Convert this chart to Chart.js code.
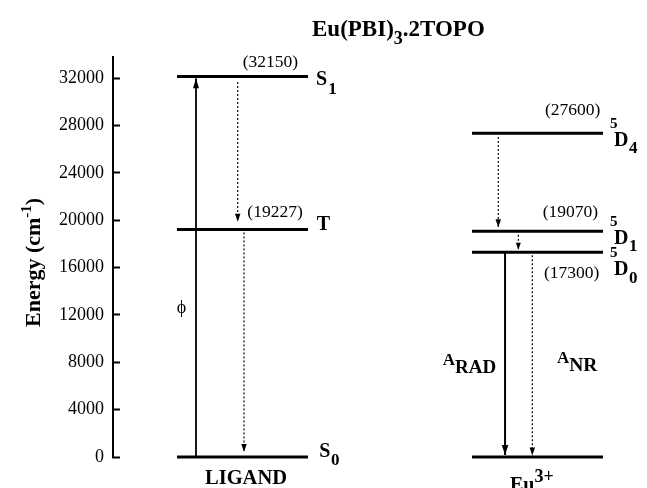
<!DOCTYPE html>
<html>
<head>
<meta charset="utf-8">
<script src="https://cdn.jsdelivr.net/npm/chart.js@4.4.1/dist/chart.umd.min.js"></script>
<style>
html,body{margin:0;padding:0;background:#fff;}
canvas{display:block;}
</style>
</head>
<body>
<canvas id="c" width="647" height="488"></canvas>
<script>
// ---------------- data ----------------
const categories = ['LIGAND', 'Eu3+'];
const columnLabelParts = [['LIGAND'], ['Eu', '3+']];
const ligandStateParts = [['S', '0'], ['T'], ['S', '1']];
const ligandEnergies = [0, 19227, 32150];
const ligandEnergyLabels = ['', '(19227)', '(32150)'];
const euStateParts = [[], ['5', 'D', '0'], ['5', 'D', '1'], ['5', 'D', '4']];
const euEnergies = [0, 17300, 19070, 27350];
const euEnergyLabels = ['', '(17300)', '(19070)', '(27600)'];
const ligandTransitions = [[0, 2], [2, 1], [1, 0]];          // from level index -> to level index
const euTransitions = [[3, 2], [2, 1], [1, 0], [1, 0]];
const transitionLabelParts = { phi: ['\u03D5'], rad: ['A', 'RAD'], nr: ['A', 'NR'] };
const yTicks = [0, 4000, 8000, 12000, 16000, 20000, 24000, 28000, 32000];
const yMax = 33800;
const titleParts = ['Eu(PBI)', '3', '.2TOPO'];
const yTitleParts = ['Energy (cm', '-1', ')'];

// ---------------- layout / style ----------------
const FONT = '"Liberation Serif", "Times New Roman", serif';
const colX = [1, 2];
const halfWidth = 0.222;
const xRange = [0.561, 2.3576];
const ligandArrowStyle = [
  { dx: -0.1576, dash: false, w: 1.8, startGap: 0, tipGap: 1.8, headW: 6, headL: 10 },
  { dx: -0.0163, dash: true, w: 1.2, startGap: 5.5, tipGap: 7.6, headW: 5.5, headL: 8 },
  { dx: 0.005, dash: true, w: 1.2, startGap: 3, tipGap: 5, headW: 5.5, headL: 8 }
];
const euArrowStyle = [
  { dx: -0.133, dash: true, w: 1.2, startGap: 3.6, tipGap: 4, headW: 5.5, headL: 8 },
  { dx: -0.065, dash: true, w: 1.2, startGap: 3.5, tipGap: 2.5, headW: 5, headL: 7 },
  { dx: -0.110, dash: false, w: 2, startGap: 0, tipGap: 2, headW: 6.5, headL: 10 },
  { dx: -0.0176, dash: true, w: 1.2, startGap: 3, tipGap: 1.5, headW: 5.5, headL: 8 }
];
const ligandEnergyPos = [null, { dx: 4.8, dy: -12.8 }, { dx: 0.2, dy: -10 }];
const euEnergyPos = [null, { dx: 6.5, dy: 26 }, { dx: 5.2, dy: -14.4 }, { dx: 7.5, dy: -18 }];
const ligandStatePos = [
  { dx: 76.8, parts: [{ size: 20, dy: 0 }, { size: 17, gap: 0.5, dy: 8 }] },
  { dx: 74.2, parts: [{ size: 20, dy: 0.7 }] },
  { dx: 73.5, parts: [{ size: 20, dy: 8 }, { size: 17, gap: 1, dy: 17 }] }
];
const euStatePos = [
  null,
  { dx: 72.5, parts: [{ size: 15, dy: 4.6 }, { size: 20, gap: -3.5, dy: 23 }, { size: 17, gap: 0.5, dy: 31 }] },
  { dx: 72.5, parts: [{ size: 15, dy: -5.5 }, { size: 20, gap: -3.5, dy: 12.5 }, { size: 17, gap: 0.5, dy: 19.5 }] },
  { dx: 72.5, parts: [{ size: 15, dy: -5 }, { size: 20, gap: -3.5, dy: 13 }, { size: 17, gap: 0.5, dy: 20 }] }
];

// ---------------- datasets ----------------
const datasets = [];
function levelDataset(x, y) {
  return { data: [{ x: x - halfWidth, y: y }, { x: x + halfWidth, y: y }],
    borderColor: '#000', borderWidth: 3, pointRadius: 0, showLine: true, clip: false };
}
function arrowDataset(x, y0, y1, s) {
  return { data: [{ x: x + s.dx, y: y0 }, { x: x + s.dx, y: y1 }],
    borderColor: '#000', borderWidth: s.w, borderDash: s.dash ? [2, 2] : [],
    pointRadius: 0, showLine: true, clip: false, arrow: s };
}
ligandEnergies.forEach(e => datasets.push(levelDataset(colX[0], e)));
euEnergies.forEach(e => datasets.push(levelDataset(colX[1], e)));
ligandTransitions.forEach(([a, b], i) =>
  datasets.push(arrowDataset(colX[0], ligandEnergies[a], ligandEnergies[b], ligandArrowStyle[i])));
euTransitions.forEach(([a, b], i) =>
  datasets.push(arrowDataset(colX[1], euEnergies[a], euEnergies[b], euArrowStyle[i])));

// ---------------- helpers ----------------
function drawParts(ctx, x, y, texts, specs) {
  let cx = x;
  texts.forEach((t, i) => {
    const s = specs[i] || specs[specs.length - 1];
    ctx.font = (s.bold === false ? '' : 'bold ') + s.size + 'px ' + FONT;
    cx += (s.gap || 0);
    ctx.fillText(t, cx, y + (s.dy || 0));
    cx += ctx.measureText(t).width;
  });
  return cx - x;
}

const arrowPlugin = {
  id: 'arrows',
  afterDatasetsUpdate(chart) {
    chart.data.datasets.forEach((ds, i) => {
      if (!ds.arrow) return;
      const pts = chart.getDatasetMeta(i).data;
      const d = Math.sign(pts[1].y - pts[0].y);
      pts[0].y += d * ds.arrow.startGap;
      pts[1].y -= d * ds.arrow.tipGap;
    });
  },
  afterDatasetsDraw(chart) {
    const ctx = chart.ctx;
    chart.data.datasets.forEach((ds, i) => {
      if (!ds.arrow) return;
      const pts = chart.getDatasetMeta(i).data;
      const d = Math.sign(pts[1].y - pts[0].y);
      const tx = pts[1].x, ty = pts[1].y;
      const s = ds.arrow;
      ctx.save();
      ctx.fillStyle = '#000';
      ctx.beginPath();
      ctx.moveTo(tx, ty);
      ctx.lineTo(tx - s.headW / 2, ty - d * s.headL);
      ctx.lineTo(tx + s.headW / 2, ty - d * s.headL);
      ctx.closePath();
      ctx.fill();
      ctx.restore();
    });
  }
};

const textPlugin = {
  id: 'texts',
  afterDraw(chart) {
    const ctx = chart.ctx;
    const xs = chart.scales.x, ys = chart.scales.y;
    ctx.save();
    ctx.fillStyle = '#000';
    ctx.textBaseline = 'alphabetic';
    ctx.textAlign = 'left';
    const lx = xs.getPixelForValue(colX[0]);
    const ex = xs.getPixelForValue(colX[1]);

    // title
    drawParts(ctx, 312, 36, titleParts, [{ size: 23 }, { size: 18, dy: 8 }, { size: 23 }]);

    // energy values
    ligandEnergyLabels.forEach((t, i) => {
      if (!t) return;
      const p = ligandEnergyPos[i];
      ctx.font = '17.5px ' + FONT;
      ctx.fillText(t, lx + p.dx, ys.getPixelForValue(ligandEnergies[i]) + p.dy);
    });
    euEnergyLabels.forEach((t, i) => {
      if (!t) return;
      const p = euEnergyPos[i];
      ctx.font = '17.5px ' + FONT;
      ctx.fillText(t, ex + p.dx, ys.getPixelForValue(euEnergies[i]) + p.dy);
    });

    // state names
    ligandStateParts.forEach((parts, i) => {
      const p = ligandStatePos[i];
      drawParts(ctx, lx + p.dx, ys.getPixelForValue(ligandEnergies[i]), parts, p.parts);
    });
    euStateParts.forEach((parts, i) => {
      if (!parts.length) return;
      const p = euStatePos[i];
      drawParts(ctx, ex + p.dx, ys.getPixelForValue(euEnergies[i]), parts, p.parts);
    });

    const g0 = ys.getPixelForValue(0);
    // phi
    ctx.font = '18px ' + FONT;
    ctx.textAlign = 'center';
    ctx.fillText(transitionLabelParts.phi[0], lx - 61, g0 - 144);
    // LIGAND
    ctx.font = 'bold 20.5px ' + FONT;
    ctx.fillText(columnLabelParts[0][0], lx + 3.5, g0 + 27);
    ctx.textAlign = 'left';
    // Eu3+
    drawParts(ctx, ex - 27.5, g0 + 34, columnLabelParts[1], [{ size: 20 }, { size: 18, dy: -9 }]);
    // A_RAD, A_NR
    drawParts(ctx, ex - 94.8, g0, transitionLabelParts.rad, [{ size: 17, dy: -92 }, { size: 19, dy: -83.7 }]);
    drawParts(ctx, ex + 19.5, g0, transitionLabelParts.nr, [{ size: 17, dy: -93.7 }, { size: 19.5, dy: -86 }]);

    // y axis title (rotated)
    ctx.translate(39.5, 327);
    ctx.rotate(-Math.PI / 2);
    drawParts(ctx, 0, 0, yTitleParts, [{ size: 22 }, { size: 15, dy: -9 }, { size: 22 }]);
    ctx.restore();
  }
};

new Chart(document.getElementById('c'), {
  type: 'scatter',
  data: { datasets: datasets },
  options: {
    responsive: false,
    devicePixelRatio: 1,
    animation: false,
    events: [],
    layout: { padding: { top: 57, bottom: 31, left: 0, right: 4 } },
    plugins: { legend: { display: false }, tooltip: { enabled: false }, title: { display: false } },
    scales: {
      x: { type: 'linear', display: false, min: xRange[0], max: xRange[1] },
      y: {
        type: 'linear', position: 'left', min: 0, max: yMax,
        afterFit(s) { s.width = 113; },
        afterBuildTicks(s) { s.ticks = yTicks.map(v => ({ value: v })); },
        border: { display: true, color: '#000', width: 2 },
        grid: { drawOnChartArea: false, drawTicks: true, tickLength: -7, tickWidth: 2, tickColor: '#000', color: '#000' },
        ticks: { color: '#000', padding: 16, font: { family: FONT, size: 18 }, callback: v => String(v) }
      }
    }
  },
  plugins: [arrowPlugin, textPlugin]
});
</script>
</body>
</html>
